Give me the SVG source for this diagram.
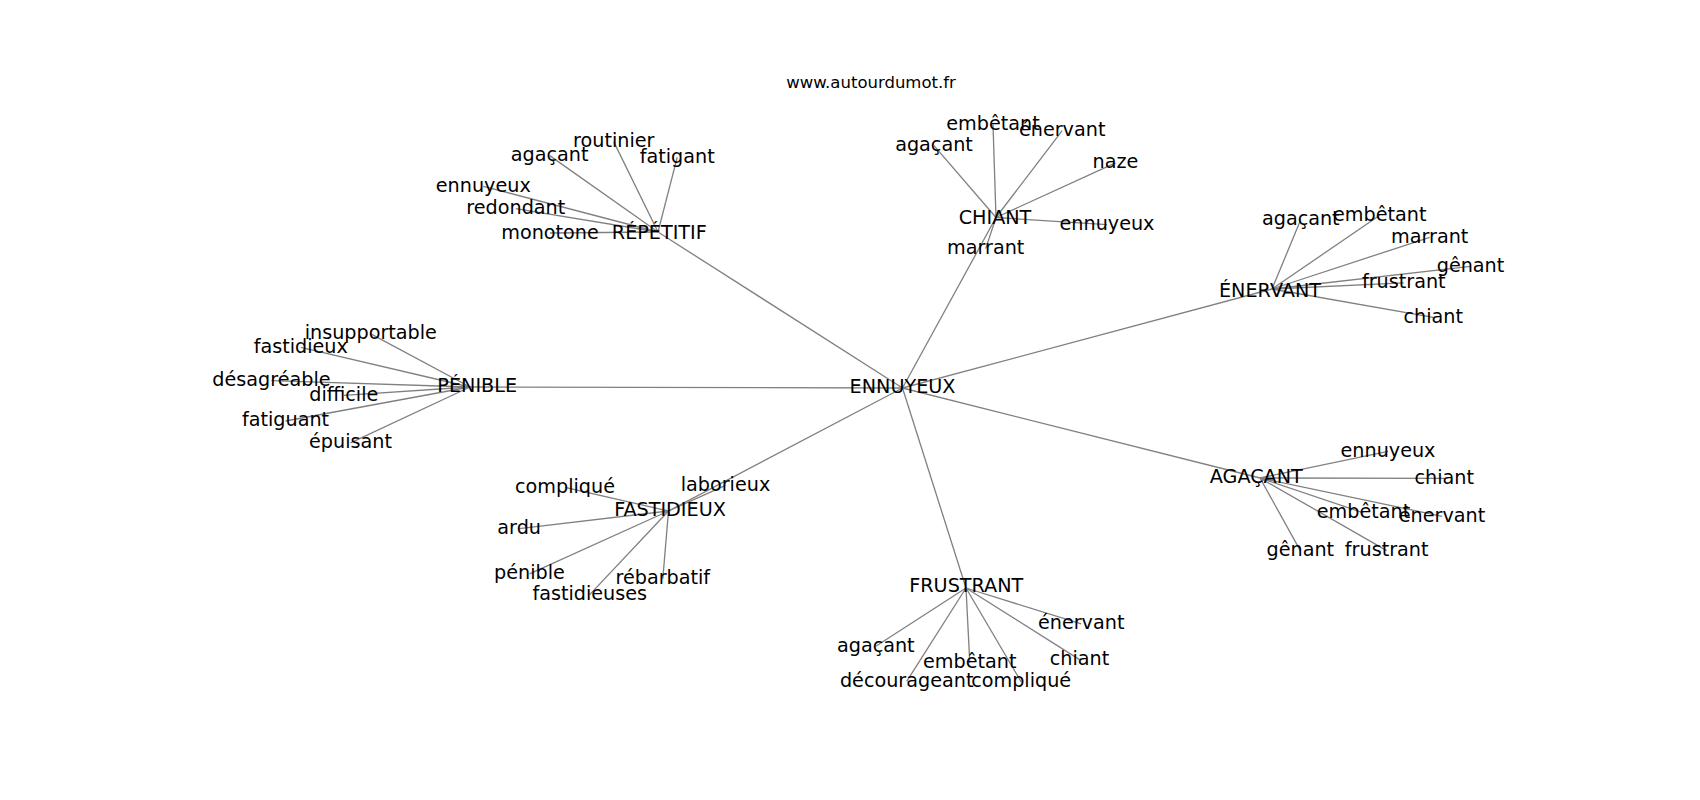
<svg xmlns="http://www.w3.org/2000/svg" width="1700" height="800" viewBox="0 0 1700 800">
<style>
.e line{stroke:#808080;stroke-width:1.3;fill:none}
text{font-family:"DejaVu Sans","Liberation Sans",sans-serif;font-size:19.2px;fill:#000;text-anchor:middle}
.t{font-size:16.5px}
</style>
<rect width="1700" height="800" fill="#fff"/>
<g id="connectors" class="e">
<line x1="902.5" y1="388" x2="658" y2="232"/>
<line x1="902.5" y1="388" x2="996" y2="217.5"/>
<line x1="902.5" y1="388" x2="1272" y2="289"/>
<line x1="902.5" y1="388" x2="470" y2="387"/>
<line x1="902.5" y1="388" x2="668.5" y2="511"/>
<line x1="902.5" y1="388" x2="1260" y2="478"/>
<line x1="902.5" y1="388" x2="966" y2="588"/>
<line x1="658" y1="232" x2="613.8" y2="141.9"/>
<line x1="658" y1="232" x2="549.7" y2="155.6"/>
<line x1="658" y1="232" x2="677.2" y2="157.3"/>
<line x1="658" y1="232" x2="483.3" y2="186.3"/>
<line x1="658" y1="232" x2="515.8" y2="208.6"/>
<line x1="658" y1="232" x2="550" y2="233"/>
<line x1="996" y1="217.5" x2="993" y2="124.6"/>
<line x1="996" y1="217.5" x2="1062.2" y2="130.6"/>
<line x1="996" y1="217.5" x2="934" y2="145.6"/>
<line x1="996" y1="217.5" x2="1115.5" y2="162.9"/>
<line x1="996" y1="217.5" x2="1107" y2="224.6"/>
<line x1="996" y1="217.5" x2="985.7" y2="248.6"/>
<line x1="1272" y1="289" x2="1300.8" y2="219.6"/>
<line x1="1272" y1="289" x2="1379.7" y2="215.3"/>
<line x1="1272" y1="289" x2="1429.7" y2="237.3"/>
<line x1="1272" y1="289" x2="1470.5" y2="266.3"/>
<line x1="1272" y1="289" x2="1403.8" y2="282.9"/>
<line x1="1272" y1="289" x2="1433.2" y2="317.3"/>
<line x1="470" y1="387" x2="370.8" y2="333.9"/>
<line x1="470" y1="387" x2="300.8" y2="347.3"/>
<line x1="470" y1="387" x2="271.5" y2="380.6"/>
<line x1="470" y1="387" x2="343.8" y2="395.3"/>
<line x1="470" y1="387" x2="285.5" y2="421"/>
<line x1="470" y1="387" x2="350.5" y2="442.9"/>
<line x1="668.5" y1="511" x2="565" y2="487.3"/>
<line x1="668.5" y1="511" x2="725.5" y2="485.3"/>
<line x1="668.5" y1="511" x2="519.2" y2="528.6"/>
<line x1="668.5" y1="511" x2="529.5" y2="573.9"/>
<line x1="668.5" y1="511" x2="589.7" y2="594.6"/>
<line x1="668.5" y1="511" x2="662.8" y2="578.9"/>
<line x1="1260" y1="478" x2="1388" y2="451.3"/>
<line x1="1260" y1="478" x2="1444.2" y2="478.3"/>
<line x1="1260" y1="478" x2="1363.5" y2="512.9"/>
<line x1="1260" y1="478" x2="1442" y2="516.3"/>
<line x1="1260" y1="478" x2="1300.3" y2="550.6"/>
<line x1="1260" y1="478" x2="1386.7" y2="550.6"/>
<line x1="966" y1="588" x2="1081.2" y2="623.9"/>
<line x1="966" y1="588" x2="875.8" y2="646.3"/>
<line x1="966" y1="588" x2="1079.5" y2="659.6"/>
<line x1="966" y1="588" x2="969.8" y2="662.9"/>
<line x1="966" y1="588" x2="906.7" y2="681.3"/>
<line x1="966" y1="588" x2="1021.2" y2="681.9"/>
</g>
<text class="t" x="871" y="88">www.autourdumot.fr</text>
<g id="n-ennuyeux"><text x="902.5" y="393.3">ENNUYEUX</text></g>
<g id="n-repetitif"><text x="659.3" y="239">RÉPÉTITIF</text></g>
<g id="n-chiant"><text x="995" y="224">CHIANT</text></g>
<g id="n-enervant"><text x="1270" y="297.3">ÉNERVANT</text></g>
<g id="n-penible"><text x="477.2" y="391.7">PÉNIBLE</text></g>
<g id="n-fastidieux"><text x="670" y="516">FASTIDIEUX</text></g>
<g id="n-agacant"><text x="1256.3" y="483.3">AGAÇANT</text></g>
<g id="n-frustrant"><text x="966.3" y="591.7">FRUSTRANT</text></g>
<g id="n-rep-routinier"><text x="613.8" y="147.3">routinier</text></g>
<g id="n-rep-agacant"><text x="549.7" y="161">agaçant</text></g>
<g id="n-rep-fatigant"><text x="677.2" y="162.7">fatigant</text></g>
<g id="n-rep-ennuyeux"><text x="483.3" y="191.7">ennuyeux</text></g>
<g id="n-rep-redondant"><text x="515.8" y="214">redondant</text></g>
<g id="n-rep-monotone"><text x="550" y="239">monotone</text></g>
<g id="n-chi-embetant"><text x="993" y="130">embêtant</text></g>
<g id="n-chi-enervant"><text x="1062.2" y="136">énervant</text></g>
<g id="n-chi-agacant"><text x="934" y="151">agaçant</text></g>
<g id="n-chi-naze"><text x="1115.5" y="168.3">naze</text></g>
<g id="n-chi-ennuyeux"><text x="1107" y="230">ennuyeux</text></g>
<g id="n-chi-marrant"><text x="985.7" y="254">marrant</text></g>
<g id="n-ene-agacant"><text x="1300.8" y="225">agaçant</text></g>
<g id="n-ene-embetant"><text x="1379.7" y="220.7">embêtant</text></g>
<g id="n-ene-marrant"><text x="1429.7" y="242.7">marrant</text></g>
<g id="n-ene-genant"><text x="1470.5" y="271.7">gênant</text></g>
<g id="n-ene-frustrant"><text x="1403.8" y="288.3">frustrant</text></g>
<g id="n-ene-chiant"><text x="1433.2" y="322.7">chiant</text></g>
<g id="n-pen-insupportable"><text x="370.8" y="339.3">insupportable</text></g>
<g id="n-pen-fastidieux"><text x="300.8" y="352.7">fastidieux</text></g>
<g id="n-pen-desagreable"><text x="271.5" y="386">désagréable</text></g>
<g id="n-pen-difficile"><text x="343.8" y="400.7">difficile</text></g>
<g id="n-pen-fatiguant"><text x="285.5" y="426.4">fatiguant</text></g>
<g id="n-pen-epuisant"><text x="350.5" y="448.3">épuisant</text></g>
<g id="n-fas-complique"><text x="565" y="492.7">compliqué</text></g>
<g id="n-fas-laborieux"><text x="725.5" y="490.7">laborieux</text></g>
<g id="n-fas-ardu"><text x="519.2" y="534">ardu</text></g>
<g id="n-fas-penible"><text x="529.5" y="579.3">pénible</text></g>
<g id="n-fas-fastidieuses"><text x="589.7" y="600">fastidieuses</text></g>
<g id="n-fas-rebarbatif"><text x="662.8" y="584.3">rébarbatif</text></g>
<g id="n-aga-ennuyeux"><text x="1388" y="456.7">ennuyeux</text></g>
<g id="n-aga-chiant"><text x="1444.2" y="484">chiant</text></g>
<g id="n-aga-embetant"><text x="1363.5" y="518.3">embêtant</text></g>
<g id="n-aga-enervant"><text x="1442" y="521.7">énervant</text></g>
<g id="n-aga-genant"><text x="1300.3" y="556">gênant</text></g>
<g id="n-aga-frustrant"><text x="1386.7" y="556">frustrant</text></g>
<g id="n-fru-enervant"><text x="1081.2" y="629.3">énervant</text></g>
<g id="n-fru-agacant"><text x="875.8" y="651.7">agaçant</text></g>
<g id="n-fru-chiant"><text x="1079.5" y="665">chiant</text></g>
<g id="n-fru-embetant"><text x="969.8" y="668.3">embêtant</text></g>
<g id="n-fru-decourageant"><text x="906.7" y="686.7">décourageant</text></g>
<g id="n-fru-complique"><text x="1021.2" y="687.3">compliqué</text></g>
</svg>
